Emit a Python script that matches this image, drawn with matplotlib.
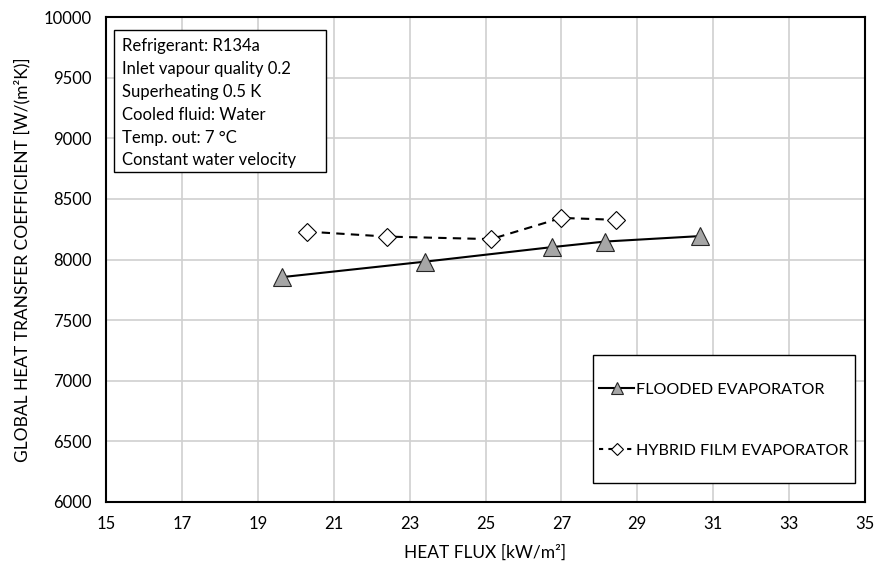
import matplotlib
matplotlib.use("Agg")
import matplotlib.pyplot as plt
from matplotlib.lines import Line2D
from matplotlib.patches import Rectangle

plt.rcParams['font.family'] = ['Lato', 'DejaVu Sans']

flooded_x = [19.65, 23.4, 26.75, 28.15, 30.65]
flooded_y = [7855, 7982, 8102, 8148, 8193]
hybrid_x = [20.3, 22.4, 25.15, 27.0, 28.45]
hybrid_y = [8230, 8189, 8168, 8343, 8327]

xticks = list(range(15, 36, 2))
yticks = list(range(6000, 10001, 500))

info_lines = ["Refrigerant: R134a", "Inlet vapour quality 0.2", "Superheating 0.5 K",
              "Cooled fluid: Water", "Temp. out: 7 \u00b0C", "Constant water velocity"]

fig = plt.figure(figsize=(8.76, 5.63), dpi=100)
ax = fig.add_axes([106 / 876, 1 - 502 / 563, 759 / 876, 485 / 563])

ax.plot(flooded_x, flooded_y, color='black', lw=1.5, marker='^', ms=13,
        mfc='#a6a6a6', mec='#262626', mew=0.8, zorder=3)
ax.plot(hybrid_x, hybrid_y, color='black', lw=1.5, ls=(0, (4, 3)), marker='D', ms=9,
        mfc='white', mec='black', mew=0.8, zorder=3)

ax.set_xlim(15, 35)
ax.set_ylim(6000, 10000)
ax.set_xticks(xticks)
ax.set_yticks(yticks)
ax.grid(True, color='#d0d0d0', lw=1.2)
ax.set_axisbelow(True)
ax.tick_params(length=0, labelsize=12, pad=10)
for s in ax.spines.values():
    s.set_linewidth(1.5)

ax.set_xlabel("HEAT FLUX [kW/m\u00b2]", fontsize=12.5, labelpad=9)
ax.set_ylabel("GLOBAL HEAT TRANSFER COEFFICIENT [W/(m\u00b2K)]", fontsize=12.5, labelpad=10)

# info box
ax.add_patch(Rectangle(((114 - 106) / 759, (502 - 172) / 485), (326 - 114) / 759, (172 - 30) / 485,
                       transform=ax.transAxes, fill=True, fc='white', ec='black', lw=1, zorder=4))
ax.text((122 - 106) / 759, (502 - 38) / 485, "\n".join(info_lines), transform=ax.transAxes,
        ha='left', va='top', fontsize=12, linespacing=1.53, zorder=5)

# legend box
ax.add_patch(Rectangle(((593 - 106) / 759, (502 - 483) / 485), (855 - 593) / 759, (483 - 355) / 485,
                       transform=ax.transAxes, fill=True, fc='white', ec='black', lw=1, zorder=4))
handles = [
    Line2D([], [], color='black', lw=1.5, marker='^', ms=9, mfc='#a6a6a6', mec='#262626', mew=0.8),
    Line2D([], [], color='black', lw=1.5, ls=(0, (2, 2.5)), marker='D', ms=6, mfc='white', mec='black', mew=0.8),
]
leg = ax.legend(handles, ["FLOODED EVAPORATOR", "HYBRID FILM EVAPORATOR"],
                loc='center left', bbox_to_anchor=((599 - 106) / 759, (502 - 420) / 485),
                frameon=False, borderpad=0, borderaxespad=0, handlelength=2.2,
                handletextpad=0.1, labelspacing=2.9, fontsize=11.6)
leg.set_zorder(6)

fig.savefig("out.png", dpi=100)
